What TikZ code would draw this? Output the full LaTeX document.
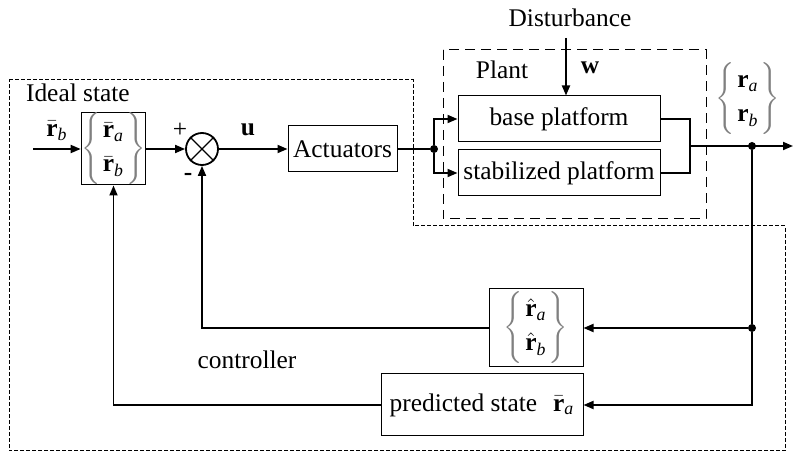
\documentclass[tikz,border=0pt]{standalone}
\usepackage{amsmath}
\usepackage{fontspec}
\setmainfont{Liberation Serif}
\usetikzlibrary{arrows.meta}

% bold vector r with accent and italic index
\newcommand{\vecr}[2]{#1{\textbf{r}}_{\text{\itshape #2}}}
% two stacked vectors between thin grey braces
\newcommand{\pila}[2]{\begin{array}{@{}c@{}}#1\\[2pt]#2\end{array}}
\newcommand{\llave}[2]{$\color{gray}\left\{\vphantom{\pila{#1}{#2}}\right.\!
  \color{black}\pila{#1}{#2}
  \!\color{gray}\left.\vphantom{\pila{#1}{#2}}\right\}$}

\begin{document}
\begin{tikzpicture}[
  x=0.5pt, y=-0.5pt,
  font=\fontsize{12.7}{15}\selectfont,
  bloque/.style={draw, line width=0.5pt, inner sep=0pt},
  suma/.style={draw, line width=0.9pt, circle, minimum size=16pt, inner sep=0pt},
  punto/.style={circle, fill, inner sep=0pt, minimum size=4pt},
  linea/.style={line width=0.9pt},
  flecha/.style={linea, -{Triangle[length=5pt,width=4pt]}},
  marco/.style={line width=0.5pt, dash pattern=on 2pt off 1pt}
]
\useasboundingbox (0,0) rectangle (794,454);

% dashed frames
\draw[marco] (9,80) -- (413,80) -- (413,226) -- (785,226) -- (785,451) -- (9,451) -- cycle;
\draw[line width=0.5pt, dash pattern=on 5pt off 3pt] (443,50) rectangle (706,219);

% blocks
\node[bloque, minimum width=27.5pt, minimum height=35pt] (ideal) at (113.5,149)
  {\llave{\vecr{\bar}{a}}{\vecr{\bar}{b}}};
\node[suma] (suma) at (202,149) {};
\draw[line width=0.6pt] (suma.45) -- (suma.225) (suma.135) -- (suma.315);
\node[bloque, minimum width=54.5pt, minimum height=23pt] (act) at (342.5,149) {Actuators};
\node[bloque, minimum width=101pt, minimum height=23pt] (base) at (559,119) {base platform};
\node[bloque, minimum width=101pt, minimum height=23pt] (stab) at (559,173) {stabilized platform};
\node[bloque, minimum width=47pt, minimum height=39pt] (hat) at (536,328)
  {\llave{\vecr{\hat}{a}}{\vecr{\hat}{b}}};
\node[bloque, minimum width=101pt, minimum height=31pt] (pred) at (482,405)
  {predicted state\hspace{8pt}$\vecr{\bar}{a}$};

% points
\coordinate (ent) at (33,149);
\node[punto] (pdiv) at (434,149) {};
\coordinate (unir) at (690,146);
\node[punto] (psal) at (752,146) {};
\coordinate (sal) at (793,146);
\node[punto] (pfb) at (752,328) {};
\coordinate (wtop) at (566,38);

% labels
\node[anchor=west] (tideal) at (19,93) {Ideal state};
\node (tent) at (57,131) {$\vecr{\bar}{b}$};
\node (tmas) at (180,130) {+};
\node (tmenos) at (188,177) {\textbf{-}};
\node (tu) at (248,130) {$\textbf{u}$};
\node (tdist) at (570,18) {Disturbance};
\node (tplant) at (502,70) {Plant};
\node (tw) at (590,68) {$\textbf{w}$};
\node (tsal) at (748,99) {\llave{\vecr{}{a}}{\vecr{}{b}}};
\node (tctrl) at (247,360) {controller};

% forward path
\draw[flecha] (ent) -- (ideal.west);
\draw[flecha] (ideal.east) -- (suma.west);
\draw[flecha] (suma.east) -- (act.west);
\draw[linea] (act.east) -- (pdiv);
\draw[flecha] (pdiv) |- (base.west);
\draw[flecha] (pdiv) |- (stab.west);
\draw[flecha] (wtop) -- (wtop |- base.north);
\draw[linea] (base.east) -| (unir);
\draw[linea] (stab.east) -| (unir);
\draw[flecha] (unir) -- (sal);

% feedback
\draw[linea] (psal) -- (pfb);
\draw[flecha] (pfb) -- (hat.east);
\draw[flecha] (hat.west) -| (suma.south);
\draw[flecha] (pfb) |- (pred.east);
\draw[flecha] (pred.west) -| (ideal.south);
\end{tikzpicture}
\end{document}
